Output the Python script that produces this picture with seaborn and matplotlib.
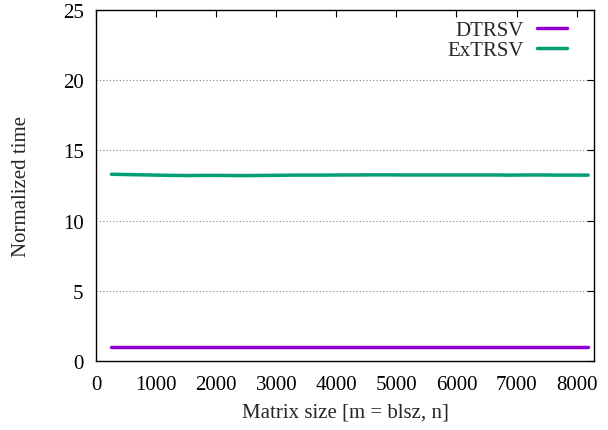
import numpy as np
import pandas as pd
import matplotlib
matplotlib.use("Agg")
import matplotlib.pyplot as plt
import seaborn as sns

# Matrix sizes (n) and normalized run times
sizes = [256 * k for k in range(1, 33)]
dtrsv = [1.0] * 32
extrsv = [13.30, 13.28, 13.26, 13.24, 13.22, 13.21, 13.22, 13.22,
          13.21, 13.21, 13.22, 13.23, 13.24, 13.24, 13.24, 13.25,
          13.25, 13.26, 13.26, 13.25, 13.25, 13.25, 13.25, 13.25,
          13.25, 13.25, 13.24, 13.25, 13.25, 13.24, 13.24, 13.24]
series_names = ["DTRSV", "ExTRSV"]
series_colors = ["#9400D3", "#009E73"]
x_ticks = [0, 1000, 2000, 3000, 4000, 5000, 6000, 7000, 8000]
y_ticks = [0, 5, 10, 15, 20, 25]

df = pd.DataFrame({
    "n": sizes * 2,
    "time": dtrsv + extrsv,
    "method": [series_names[0]] * len(sizes) + [series_names[1]] * len(sizes),
})

sns.set_theme(style="white")
plt.rcParams["font.family"] = ["Liberation Serif", "DejaVu Serif"]

FS = 15

fig = plt.figure(figsize=(6.08, 4.31), dpi=100)
ax = fig.add_axes([0.158, 0.160, 0.819, 0.8145])

sns.lineplot(data=df, x="n", y="time", hue="method", hue_order=series_names,
             palette=series_colors, linewidth=2.5, ax=ax, legend=True)

ax.set_xlim(0, 8290)
ax.set_ylim(0, 25)
ax.set_xticks(x_ticks)
ax.set_yticks(y_ticks)
ax.set_xticklabels([str(t) for t in x_ticks])
ax.set_yticklabels([str(t) for t in y_ticks])

for y in y_ticks[1:-1]:
    ax.axhline(y, color="#808080", linestyle=(0, (1, 2)), linewidth=0.8, zorder=0)

for s in ax.spines.values():
    s.set_visible(True)
    s.set_color("black")
    s.set_linewidth(1.0)

ax.tick_params(axis="both", direction="in", length=5, width=0.8,
               top=True, right=True, labelsize=FS, colors="black")
ax.tick_params(axis="x", pad=10)
ax.tick_params(axis="y", pad=9)

ax.set_xlabel("Matrix size [m = blsz, n]", fontsize=FS, labelpad=6)
ax.set_ylabel("Normalized time", fontsize=FS, labelpad=23)

leg = ax.legend(loc="upper right", bbox_to_anchor=(1.0, 1.048), frameon=False,
                fontsize=FS, markerfirst=False, handlelength=1.45,
                borderaxespad=0.9, borderpad=0.4, labelspacing=0.02,
                handletextpad=0.6)

fig.savefig("out.png", dpi=100)
